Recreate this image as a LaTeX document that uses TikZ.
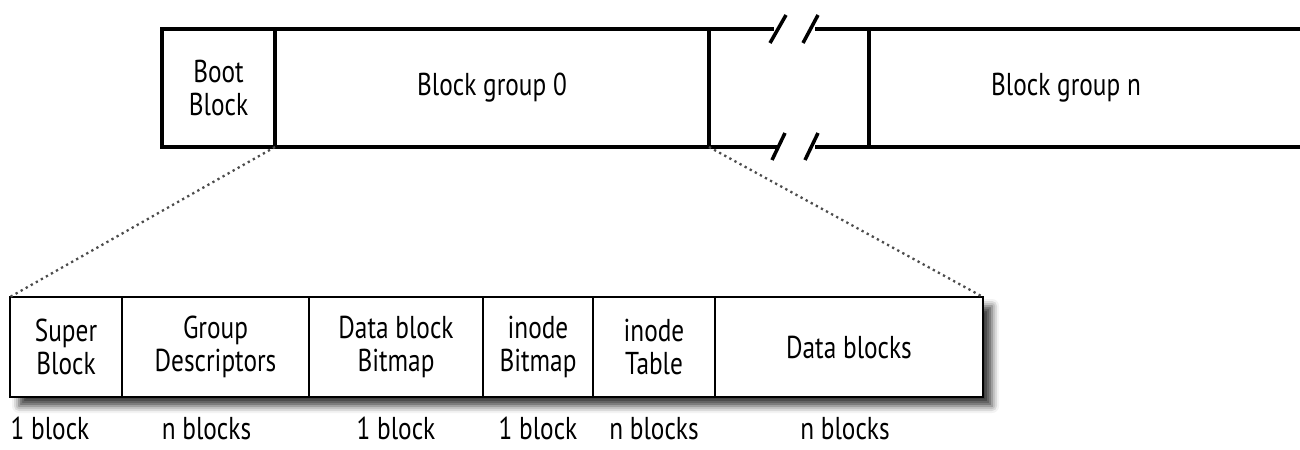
\documentclass[tikz,border=0pt]{standalone}
\usepackage{fontspec}
\setmainfont{PT Sans}[FakeStretch=0.8]
\usepackage{tikz}
\usetikzlibrary{positioning}
\usetikzlibrary{shadows.blur}
\usetikzlibrary{backgrounds}

\begin{document}
\begin{tikzpicture}[x=0.2mm, y=-0.2mm, node distance=0pt,
    every node/.style={outer sep=0pt, inner sep=0pt, align=center, font=\fontsize{18}{19}\selectfont},
    disk/.style={draw, line width=2pt, minimum height=23.6mm},
    part/.style={draw, line width=1.2pt, minimum height=20mm},
    size/.style={below=4mm of #1}]
  \useasboundingbox (0,0) rectangle (1300,449);
  % the whole disk
  \node[disk, minimum width=22.6mm, anchor=north west] (boot) at (162,29) {Boot\\Block};
  \node[disk, minimum width=86.8mm, right=of boot] (grp0) {Block group 0};
  \node[minimum width=78.8mm, minimum height=23.6mm, right=32mm of grp0] (grpn) {Block group n};
  \coordinate (edge) at (1300,0);
  \draw[line width=2pt] (grpn.north -| edge) -- (grpn.north west) -- (grpn.south west) -- (grpn.south -| edge);
  % break marks
  \draw[line width=2pt] (grp0.north east) -- ++(65,0);
  \draw[line width=2pt] ([shift={(61,14)}]grp0.north east) -- ++(16,-28);
  \draw[line width=2pt] ([shift={(94,14)}]grp0.north east) -- ++(15,-28);
  \draw[line width=2pt] ([shift={(106,0)}]grp0.north east) -- (grpn.north west);
  \draw[line width=2pt] (grp0.south east) -- ++(68,0);
  \draw[line width=2pt] ([shift={(63,13)}]grp0.south east) -- ++(13,-27);
  \draw[line width=2pt] ([shift={(96,13)}]grp0.south east) -- ++(13,-27);
  \draw[line width=2pt] ([shift={(106,0)}]grp0.south east) -- (grpn.south west);
  % one block group
  \node[part, minimum width=22.4mm, anchor=north west] (super) at (10,297) {Super\\Block};
  \node[part, minimum width=37.4mm, right=of super] (gdt) {Group\\Descriptors};
  \node[part, minimum width=34.8mm, right=of gdt] (dbmap) {Data block\\Bitmap};
  \node[part, minimum width=22mm, right=of dbmap] (imap) {inode\\Bitmap};
  \node[part, minimum width=24.4mm, right=of imap] (itab) {inode\\Table};
  \node[part, minimum width=53.6mm, right=of itab] (data) {Data blocks};
  \begin{scope}[on background layer]
    \fill[white, blur shadow={shadow xshift=1.8mm, shadow yshift=-1.8mm, shadow blur radius=1.4mm, shadow opacity=75}] (super.north west) rectangle (data.south east);
  \end{scope}
  \draw[dotted, line width=1.3pt, gray!60!black] (boot.south east) -- (super.north west);
  \draw[dotted, line width=1.3pt, gray!60!black] (grp0.south east) -- (data.north east);
  % sizes
  \node[size=super, xshift=-3.2mm] (s1) {1 block};
  \node[size=gdt, xshift=-1.8mm] (s2) {n blocks};
  \node[size=dbmap] (s3) {1 block};
  \node[size=imap] (s4) {1 block};
  \node[size=itab] (s5) {n blocks};
  \node[size=data, xshift=-0.8mm] (s6) {n blocks};
\end{tikzpicture}
\end{document}
